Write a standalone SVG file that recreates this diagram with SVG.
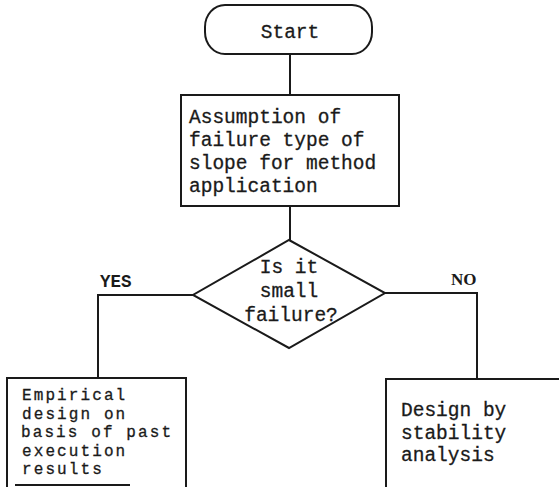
<svg xmlns="http://www.w3.org/2000/svg" width="559" height="487" viewBox="0 0 559 487">
<style>
.s{fill:none;stroke:#1a1a1a;stroke-width:2}
.t{font-family:"Liberation Mono","Courier New",monospace;font-size:19.5px;fill:#1a1a1a;stroke:#1a1a1a;stroke-width:0.3}
.c{font-size:16px;letter-spacing:2.1px}
.m{text-anchor:middle}
</style>
<rect width="559" height="487" fill="#fff"/>
<g id="connectors" class="s">
<line x1="290" y1="54" x2="290" y2="95"/>
<line x1="290" y1="206" x2="290" y2="240"/>
<polyline points="193,295 98,295 98,378"/>
<polyline points="385,293 477,293 477,379"/>
</g>
<g id="start">
<rect class="s" x="205" y="5" width="167" height="49" rx="20" ry="22"/>
<text class="t m" x="290" y="38">Start</text>
</g>
<g id="assumption">
<rect class="s" x="181" y="95" width="218" height="111"/>
<text class="t" x="189" y="123">Assumption of</text>
<text class="t" x="189" y="146">failure type of</text>
<text class="t" x="189" y="169">slope for method</text>
<text class="t" x="189" y="192">application</text>
</g>
<g id="decision">
<polygon class="s" points="289,240 385,293 289,348 193,295"/>
<text class="t m" x="289" y="273">Is it</text>
<text class="t m" x="289" y="297">small</text>
<text class="t m" x="291" y="321">failure?</text>
</g>
<g id="labels">
<text class="t" x="100" y="287" style="font-size:17.5px;font-weight:bold;stroke-width:0">YES</text>
<text x="451" y="285" style="font-family:'Liberation Serif','Times New Roman',serif;font-size:17px;font-weight:bold;fill:#1a1a1a">NO</text>
</g>
<g id="empirical">
<polyline class="s" points="7,487 7,378 186,378 186,487"/>
<line class="s" x1="15" y1="485" x2="130" y2="485"/>
<text class="t c" x="22" y="400">Empirical</text>
<text class="t c" x="22" y="418.5">design on</text>
<text class="t c" x="21" y="437">basis of past</text>
<text class="t c" x="22" y="455.5">execution</text>
<text class="t c" x="22" y="474">results</text>
</g>
<g id="stability">
<polyline class="s" points="386,487 386,379 559,379"/>
<text class="t" x="401" y="416">Design by</text>
<text class="t" x="401" y="439">stability</text>
<text class="t" x="401" y="461">analysis</text>
</g>
</svg>
